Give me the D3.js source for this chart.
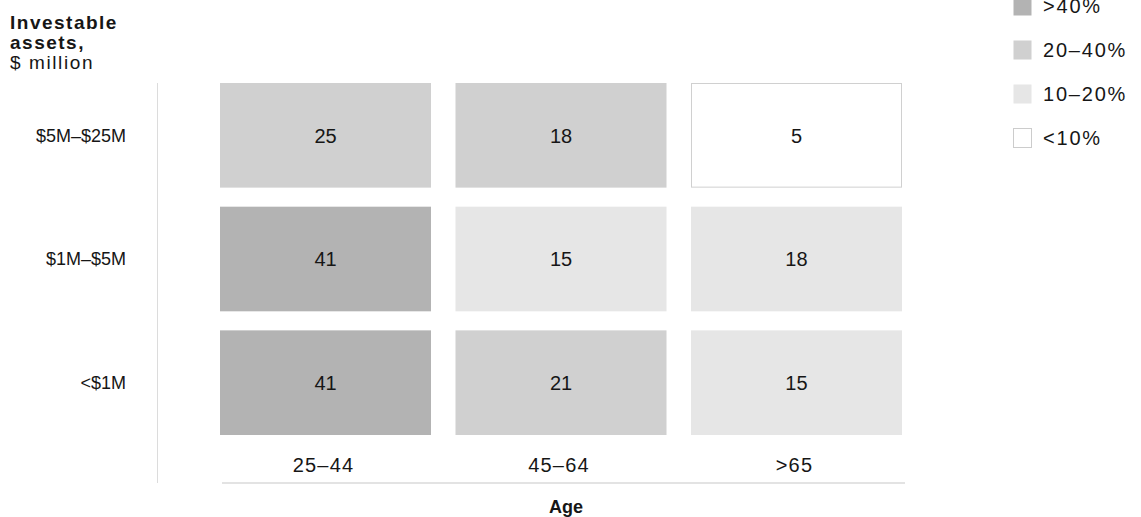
<!DOCTYPE html>
<html>
<head>
<meta charset="utf-8">
<script src="https://cdn.jsdelivr.net/npm/d3@7"></script>
<style>
  body { margin: 0; background: #fff; }
  text { font-family: "Liberation Sans", Arial, sans-serif; fill: #161616; }
</style>
</head>
<body>
<div id="chart"></div>
<script>
const ages = ["25–44", "45–64", ">65"];
const assets = ["$5M–$25M", "$1M–$5M", "<$1M"];
// share of respondents, rows = assets (top to bottom), cols = ages
const values = [
    [25, 18, 5],
    [41, 15, 18],
    [41, 21, 15]
];
// shading bucket as shown in the chart
const buckets = [
    ["20–40%", "20–40%", "<10%"],
    [">40%", "10–20%", "10–20%"],
    [">40%", "20–40%", "10–20%"]
];
const legendLabels = [">40%", "20–40%", "10–20%", "<10%"];
const legendColors = ["#b3b3b3", "#d0d0d0", "#e6e6e6", "#ffffff"];

const width = 1141, height = 517;

const svg = d3.select("#chart")
    .append("svg")
    .attr("width", width)
    .attr("height", height);

const color = d3.scaleOrdinal().domain(legendLabels).range(legendColors);

const x = d3.scaleBand()
    .domain(ages)
    .range([220, 902])
    .paddingInner(0.104);

const y = d3.scaleBand()
    .domain(assets)
    .range([83, 435])
    .paddingInner(0.154);

const cells = [];
assets.forEach((a, i) => {
    ages.forEach((g, j) => {
        cells.push({ asset: a, age: g, value: values[i][j], bucket: buckets[i][j] });
    });
});

// cells
const cell = svg.append("g").selectAll("g")
    .data(cells)
    .join("g");

cell.append("rect")
    .attr("x", d => x(d.age) + (d.bucket === "<10%" ? 0.5 : 0))
    .attr("y", d => y(d.asset) + (d.bucket === "<10%" ? 0.5 : 0))
    .attr("width", d => x.bandwidth() - (d.bucket === "<10%" ? 1 : 0))
    .attr("height", d => y.bandwidth() - (d.bucket === "<10%" ? 1 : 0))
    .attr("fill", d => color(d.bucket))
    .attr("stroke", d => d.bucket === "<10%" ? "#d0d0d0" : "none");

cell.append("text")
    .attr("x", d => x(d.age) + x.bandwidth() / 2)
    .attr("y", d => y(d.asset) + y.bandwidth() / 2)
    .attr("dy", "0.36em")
    .attr("text-anchor", "middle")
    .attr("font-size", 20)
    .text(d => d.value);

// y labels
svg.append("g").selectAll("text")
    .data(assets)
    .join("text")
    .attr("x", 126)
    .attr("y", d => y(d) + y.bandwidth() / 2)
    .attr("dy", "0.36em")
    .attr("text-anchor", "end")
    .attr("font-size", 18)
    .text(d => d);

// x labels
svg.append("g").selectAll("text")
    .data(ages)
    .join("text")
    .attr("x", d => x(d) + x.bandwidth() / 2 - 2)
    .attr("y", 465)
    .attr("dy", "0.36em")
    .attr("text-anchor", "middle")
    .attr("font-size", 20)
    .attr("letter-spacing", 1.2)
    .text(d => d);

// axis rules
svg.append("line")
    .attr("x1", 157.5).attr("x2", 157.5)
    .attr("y1", 83).attr("y2", 483)
    .attr("stroke", "#dcdcdc").attr("stroke-width", 1);

svg.append("line")
    .attr("x1", 222).attr("x2", 905)
    .attr("y1", 483).attr("y2", 483)
    .attr("stroke", "#e3e3e3").attr("stroke-width", 2);

svg.append("text")
    .attr("x", 566).attr("y", 507)
    .attr("dy", "0.36em")
    .attr("text-anchor", "middle")
    .attr("font-size", 18)
    .attr("font-weight", "bold")
    .text("Age");

// y title
const title = svg.append("text")
    .attr("x", 10)
    .attr("font-size", 19);
title.append("tspan").attr("x", 10).attr("y", 29)
    .attr("font-weight", "bold").attr("letter-spacing", 1.5).text("Investable");
title.append("tspan").attr("x", 10).attr("y", 49)
    .attr("font-weight", "bold").attr("letter-spacing", 1.5).text("assets,");
title.append("tspan").attr("x", 10).attr("y", 69)
    .attr("letter-spacing", 1.6).text("$ million");

// legend
const legend = svg.append("g").selectAll("g")
    .data(legendLabels)
    .join("g")
    .attr("transform", (d, i) => `translate(1013, ${6 + i * 44})`);

legend.append("rect")
    .attr("x", 0.5).attr("y", -9.5)
    .attr("width", 18).attr("height", 19)
    .attr("fill", d => color(d))
    .attr("stroke", d => d === "<10%" ? "#cccccc" : "none");

legend.append("text")
    .attr("x", 30)
    .attr("dy", "0.36em")
    .attr("font-size", 20)
    .attr("letter-spacing", 1.8)
    .text(d => d);
</script>
</body>
</html>
